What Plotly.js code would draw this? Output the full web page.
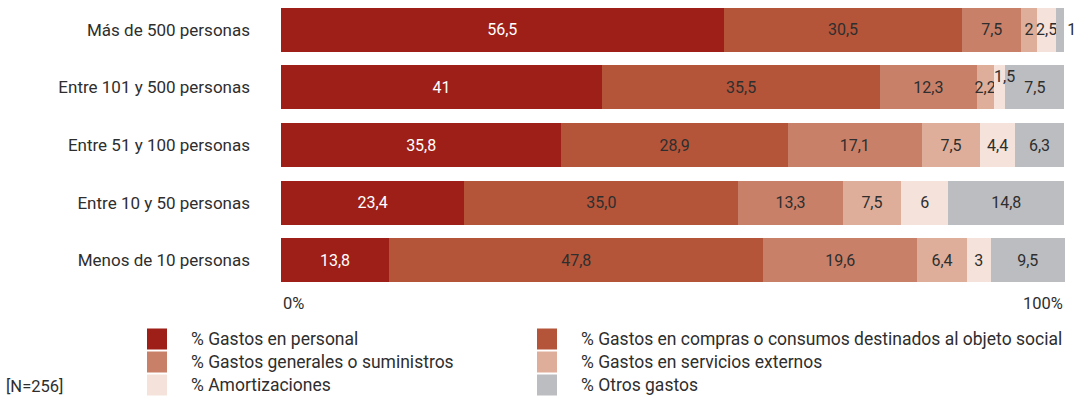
<!DOCTYPE html>
<html>
<head>
<meta charset="utf-8">
<script src="https://cdn.plot.ly/plotly-3.0.1.min.js"></script>
<style>html,body{margin:0;padding:0;background:#fff;}#chart{width:1087px;height:397px;}</style>
</head>
<body>
<div id="chart"></div>
<script>
// ---- Data ----
const categories = ['Más de 500 personas', 'Entre 101 y 500 personas', 'Entre 51 y 100 personas', 'Entre 10 y 50 personas', 'Menos de 10 personas'];
const personal       = [56.5, 41, 35.8, 23.4, 13.8];
const compras        = [30.5, 35.5, 28.9, 35.0, 47.8];
const generales      = [7.5, 12.3, 17.1, 13.3, 19.6];
const servicios      = [2, 2.2, 7.5, 7.5, 6.4];
const amortizaciones = [2.5, 1.5, 4.4, 6, 3];
const otros          = [1, 7.5, 6.3, 14.8, 9.5];
const comprasLabels  = ['30,5', '35,5', '28,9', '35,0', '47,8'];
const seriesNames = ['% Gastos en personal', '% Gastos en compras o consumos destinados al objeto social', '% Gastos generales o suministros', '% Gastos en servicios externos', '% Amortizaciones', '% Otros gastos'];
const seriesColors = ['#9d1f17', '#b4553a', '#c98069', '#dfae9a', '#f5e2da', '#bcbdc1'];
const axisLabels = ['0%', '100%'];
const note = '[N=256]';

// ---- Layout constants ----
const W = 1087, H = 397;
const M = {l: 281, r: 22, t: 1, b: 108};
const plotW = W - M.l - M.r, plotH = H - M.t - M.b;
const FONT = 'Roboto, "Open Sans", sans-serif';
const TXT = '#2e2e2e';
const px2x = px => (px - M.l) / plotW;
const py2y = py => (H - M.b - py) / plotH;
const fmt = v => String(v).replace('.', ',');

const seriesValues = [personal, compras, generales, servicios, amortizaciones, otros];
const traces = seriesValues.map((vals, i) => {
  let text = vals.map(fmt);
  if (i === 1) text = comprasLabels.slice();
  let pos = vals.map(() => 'inside');
  if (i === 4) text[1] = ''; // drawn as annotation (shifted up)
  if (i === 5) pos[0] = 'outside';
  return {
    type: 'bar', orientation: 'h', name: seriesNames[i],
    y: categories, x: vals,
    marker: {color: seriesColors[i], line: {width: 0}},
    text: text, textposition: pos, insidetextanchor: 'middle',
    textangle: 0, constraintext: 'none', cliponaxis: false,
    textfont: {family: FONT, size: 16, color: i === 0 ? '#ffffff' : TXT},
    insidetextfont: {family: FONT, size: 16, color: i === 0 ? '#ffffff' : TXT},
    outsidetextfont: {family: FONT, size: 16, color: TXT},
    hoverinfo: 'x+y+name', showlegend: false
  };
});

const annotations = [];
const shapes = [];
// shifted small label
const cum = personal[1] + compras[1] + generales[1] + servicios[1] + amortizaciones[1] / 2;
annotations.push({x: cum, y: categories[1], xref: 'x', yref: 'y', text: fmt(amortizaciones[1]),
  showarrow: false, xshift: 5, yshift: 11, font: {family: FONT, size: 16, color: TXT}});
// axis end labels
annotations.push({x: px2x(281), y: py2y(303), xref: 'paper', yref: 'paper', xanchor: 'left', yanchor: 'middle',
  text: axisLabels[0], showarrow: false, font: {family: FONT, size: 16.5, color: TXT}});
annotations.push({x: px2x(1065), y: py2y(303), xref: 'paper', yref: 'paper', xanchor: 'right', yanchor: 'middle',
  text: axisLabels[1], showarrow: false, font: {family: FONT, size: 16.5, color: TXT}});
// note
annotations.push({x: px2x(4), y: py2y(386), xref: 'paper', yref: 'paper', xanchor: 'left', yanchor: 'middle',
  text: note, showarrow: false, font: {family: FONT, size: 16.5, color: TXT}});
// legend (two columns)
const colSwatchX = [147, 537], colTextX = [189, 579];
const rowY = [339, 362, 385];
seriesNames.forEach((name, i) => {
  const col = i % 2, row = Math.floor(i / 2);
  const cy = rowY[row];
  shapes.push({type: 'rect', xref: 'paper', yref: 'paper', layer: 'above',
    x0: px2x(colSwatchX[col]), x1: px2x(colSwatchX[col] + 20),
    y0: py2y(cy + 10.5), y1: py2y(cy - 10.5),
    fillcolor: seriesColors[i], line: {width: 0}});
  annotations.push({x: px2x(colTextX[col]), y: py2y(cy), xref: 'paper', yref: 'paper', xanchor: 'left', yanchor: 'middle',
    text: name, showarrow: false, font: {family: FONT, size: 17.5, color: TXT}});
});

const layout = {
  width: W, height: H, margin: M,
  paper_bgcolor: '#ffffff', plot_bgcolor: '#ffffff',
  barmode: 'stack', bargap: 0.236, showlegend: false,
  font: {family: FONT, size: 16, color: TXT},
  xaxis: {range: [0, 100.1], showgrid: false, zeroline: false, showticklabels: false, ticks: '', fixedrange: true},
  yaxis: {type: 'category', categoryorder: 'array', categoryarray: categories, autorange: 'reversed',
    showgrid: false, zeroline: false, ticks: '', ticklabelstandoff: 30,
    tickfont: {family: FONT, size: 17, color: TXT}, fixedrange: true},
  annotations: annotations, shapes: shapes
};

Plotly.newPlot('chart', traces, layout, {displayModeBar: false, staticPlot: true});
</script>
</body>
</html>
